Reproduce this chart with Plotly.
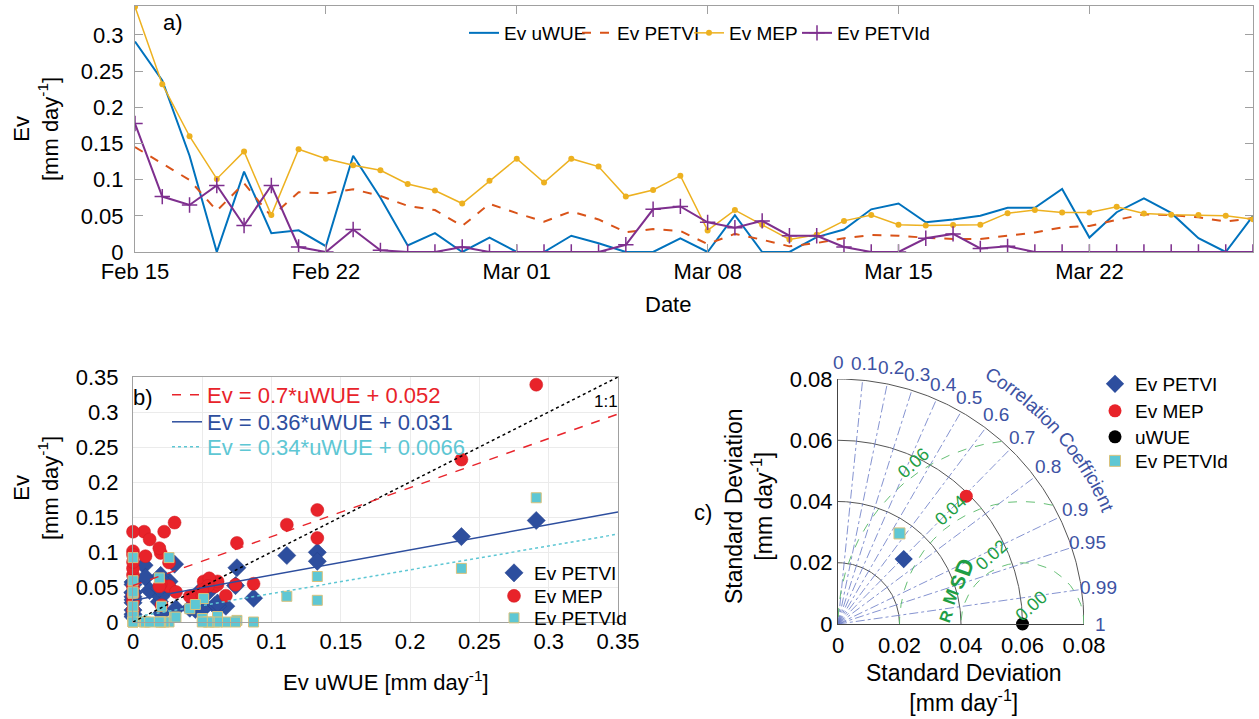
import numpy as np
import pandas as pd
import plotly.graph_objects as go

# ---------------- data ----------------
dates = pd.date_range("2015-02-15", "2015-03-28", freq="D")

ev_uwue = [0.291, 0.237, 0.133, 0.0, 0.111, 0.026, 0.030, 0.008, 0.133, 0.075,
           0.009, 0.026, 0.0, 0.020, 0.0, 0.0, 0.0225, 0.012, 0.0, 0.0,
           0.019, 0.0, 0.051, 0.0, 0.0, 0.0206, 0.031, 0.059, 0.067, 0.041,
           0.045, 0.050, 0.061, 0.061, 0.087, 0.020, 0.055, 0.074, 0.054, 0.019,
           0.0, 0.050]
ev_petvi = [0.145, 0.122, 0.0995, 0.057, 0.095, 0.049, 0.0826, 0.081, 0.0867, 0.0775,
            0.0638, 0.058, 0.036, 0.0665, 0.0537, 0.042, 0.056, 0.045, 0.0275, 0.0317,
            0.029, 0.011, 0.025, 0.017, 0.0078, 0.0124, 0.019, 0.0234, 0.0225, 0.0197,
            0.018, 0.018, 0.0225, 0.027, 0.034, 0.036, 0.0445, 0.052, 0.051, 0.048,
            0.042, 0.047]
ev_mep = [0.339, 0.232, 0.160, 0.101, 0.139, 0.051, 0.142, 0.129, 0.120, 0.113,
          0.094, 0.085, 0.067, 0.0986, 0.129, 0.096, 0.129, 0.118, 0.0766, 0.0858,
          0.1055, 0.0298, 0.058, 0.0376, 0.0174, 0.0239, 0.043, 0.051, 0.0376, 0.0367,
          0.0372, 0.0376, 0.0537, 0.058, 0.0546, 0.0546, 0.0624, 0.0532, 0.0514, 0.051,
          0.050, 0.0454]
ev_petvid = [0.1775, 0.0766, 0.065, 0.092, 0.0367, 0.092, 0.0069, 0.0, 0.031, 0.0023,
             0.0, 0.0, 0.0069, 0.0, 0.0, 0.0, 0.0, 0.0, 0.010, 0.059,
             0.063, 0.041, 0.0335, 0.043, 0.0225, 0.0225, 0.0069, 0.0, 0.0, 0.019,
             0.025, 0.005, 0.0078, 0.0, 0.0, 0.0, 0.0, 0.0, 0.0, 0.0,
             0.0, 0.0]

a_ytick_vals = [0, 0.05, 0.1, 0.15, 0.2, 0.25, 0.3]
a_ytick_text = ["0", "0.05", "0.1", "0.15", "0.2", "0.25", "0.3"]
a_xtick_dates = ["2015-02-15", "2015-02-22", "2015-03-01", "2015-03-08",
                 "2015-03-15", "2015-03-22"]
a_xtick_text = ["Feb 15", "Feb 22", "Mar 01", "Mar 08", "Mar 15", "Mar 22"]

# linear fits against Ev uWUE
fit_slopes = [0.7, 0.36, 0.34]
fit_intercepts = [0.052, 0.031, 0.0066]
fit_slope_text = ["0.7", "0.36", "0.34"]
fit_intercept_text = ["0.052", "0.031", "0.0066"]

b_tick_vals = [0, 0.05, 0.1, 0.15, 0.2, 0.25, 0.3, 0.35]
b_tick_text = ["0", "0.05", "0.1", "0.15", "0.2", "0.25", "0.3", "0.35"]

# Taylor diagram statistics
taylor_names = ["Ev PETVI", "Ev MEP", "uWUE", "Ev PETVId"]
taylor_std = [0.0301, 0.0590, 0.0600, 0.0357]
taylor_corr = [0.71, 0.707, 1.0, 0.56]
std_arcs = [0.02, 0.04, 0.06, 0.08]
rmsd_levels = [0.02, 0.04, 0.06]
rmsd_label_text = ["0.00", "0.02", "0.04", "0.06"]
corr_lines = [0.1, 0.2, 0.3, 0.4, 0.5, 0.6, 0.7, 0.8, 0.9, 0.95, 0.99]
corr_ticks = [0, 0.1, 0.2, 0.3, 0.4, 0.5, 0.6, 0.7, 0.8, 0.9, 0.95, 0.99, 1]
corr_tick_text = ["0", "0.1", "0.2", "0.3", "0.4", "0.5", "0.6", "0.7", "0.8",
                  "0.9", "0.95", "0.99", "1"]
c_tick_vals = [0, 0.02, 0.04, 0.06, 0.08]
c_tick_text = ["0", "0.02", "0.04", "0.06", "0.08"]

# ---------------- style ----------------
W, H = 1259, 719
FONT = "Liberation Sans, Arial, Helvetica, sans-serif"
C_UWUE, C_PETVI, C_MEP, C_PETVID = "#0072BD", "#D95319", "#EDB120", "#7E2F8E"
C_RED, C_BLUE, C_CYAN = "#E8232A", "#2D4E9E", "#5EC7D4"
C_CORR, C_GREEN = "#3D52A3", "#1E9E45"
AX_LINE = "#a0a0a0"


def px(x):
    return x / W


def py(y):
    return 1 - y / H


# pixel box of the Taylor diagram axes
TX0, TX1, TY0, TY1 = 838, 1084, 624, 379
T_MAX = 0.08


def tpx(x, y):
    """Taylor data coordinates -> paper fraction."""
    return px(TX0 + x / T_MAX * (TX1 - TX0)), py(TY0 - y / T_MAX * (TY0 - TY1))


fig = go.Figure()

# ---------------- panel a: time series ----------------
fig.add_trace(go.Scatter(x=dates, y=ev_uwue, name="Ev uWUE", mode="lines",
                         line=dict(color=C_UWUE, width=2), xaxis="x", yaxis="y",
                         legend="legend"))
fig.add_trace(go.Scatter(x=dates, y=ev_petvi, name="Ev PETVI", mode="lines",
                         line=dict(color=C_PETVI, width=2, dash="dash"),
                         xaxis="x", yaxis="y", legend="legend12"))
fig.add_trace(go.Scatter(x=dates, y=ev_mep, name="Ev MEP", mode="lines+markers",
                         line=dict(color=C_MEP, width=1.5),
                         marker=dict(color=C_MEP, size=6, symbol="circle"),
                         xaxis="x", yaxis="y", legend="legend13"))
fig.add_trace(go.Scatter(x=dates, y=ev_petvid, name="Ev PETVId", mode="lines+markers",
                         line=dict(color=C_PETVID, width=2),
                         marker=dict(color=C_PETVID, size=11, symbol="cross-thin",
                                     line=dict(color=C_PETVID, width=1.5)),
                         xaxis="x", yaxis="y", legend="legend14"))

# ---------------- panel b: scatter against uWUE ----------------
fig.add_trace(go.Scatter(x=ev_uwue, y=ev_petvi, name="Ev PETVI", mode="markers",
                         marker=dict(symbol="diamond", size=14, color=C_BLUE,
                                     line=dict(color="#24408a", width=0.5)),
                         xaxis="x2", yaxis="y2", legend="legend5", cliponaxis=False))
fig.add_trace(go.Scatter(x=ev_uwue, y=ev_mep, name="Ev MEP", mode="markers",
                         marker=dict(symbol="circle", size=13, color=C_RED,
                                     line=dict(color="#d01c22", width=0.5)),
                         xaxis="x2", yaxis="y2", legend="legend6", cliponaxis=False))
fig.add_trace(go.Scatter(x=ev_uwue, y=ev_petvid, name="Ev PETVId", mode="markers",
                         marker=dict(symbol="square", size=10, color=C_CYAN,
                                     line=dict(color="#d9c27c", width=1)),
                         xaxis="x2", yaxis="y2", legend="legend7", cliponaxis=False))

xfit = np.array([0.0, 0.35])
fig.add_trace(go.Scatter(x=xfit, y=xfit, mode="lines", showlegend=False,
                         line=dict(color="black", width=1.5, dash="dot"),
                         xaxis="x2", yaxis="y2"))
fit_styles = [(C_RED, "dash", "legend2"), (C_BLUE, "solid", "legend3"),
              (C_CYAN, "dot", "legend4")]
for (col, dash, leg), k, b0, ks, bs in zip(fit_styles, fit_slopes, fit_intercepts,
                                            fit_slope_text, fit_intercept_text):
    fig.add_trace(go.Scatter(x=xfit, y=k * xfit + b0, mode="lines",
                             name=f"Ev = {ks}*uWUE + {bs}",
                             line=dict(color=col, width=1.5, dash=dash),
                             xaxis="x2", yaxis="y2", legend=leg))

# ---------------- panel c: Taylor diagram ----------------
th = np.linspace(0, np.pi / 2, 200)
for r in std_arcs:
    fig.add_trace(go.Scatter(x=r * np.cos(th), y=r * np.sin(th), mode="lines",
                             line=dict(color="#555555", width=1), showlegend=False,
                             xaxis="x3", yaxis="y3", hoverinfo="skip"))
rmax = std_arcs[-1]
for c in corr_lines:
    a = np.arccos(c)
    fig.add_trace(go.Scatter(x=[0, rmax * np.cos(a)], y=[0, rmax * np.sin(a)],
                             mode="lines", showlegend=False, hoverinfo="skip",
                             line=dict(color="#6677c4", width=0.8, dash="dashdot"),
                             xaxis="x3", yaxis="y3"))
ref_std = taylor_std[2]
phi = np.linspace(0, np.pi, 400)
for d in rmsd_levels:
    xs = ref_std + d * np.cos(phi)
    ys = d * np.sin(phi)
    inside = (xs ** 2 + ys ** 2) <= rmax ** 2 + 1e-12
    xs = np.where(inside, xs, np.nan)
    ys = np.where(inside, ys, np.nan)
    fig.add_trace(go.Scatter(x=xs, y=ys, mode="lines", showlegend=False,
                             hoverinfo="skip",
                             line=dict(color="#55b865", width=0.9, dash="dash"),
                             xaxis="x3", yaxis="y3"))

taylor_markers = [dict(symbol="diamond", size=14, color=C_BLUE),
                  dict(symbol="circle", size=13, color=C_RED),
                  dict(symbol="circle", size=13, color="black"),
                  dict(symbol="square", size=11, color=C_CYAN,
                       line=dict(color="#d9c27c", width=1))]
taylor_legends = ["legend8", "legend9", "legend10", "legend11"]
for name, s, c, mk, leg in zip(taylor_names, taylor_std, taylor_corr, taylor_markers,
                               taylor_legends):
    a = np.arccos(c)
    fig.add_trace(go.Scatter(x=[s * np.cos(a)], y=[s * np.sin(a)], mode="markers",
                             name=name, marker=mk, xaxis="x3", yaxis="y3",
                             legend=leg, cliponaxis=False))

# ---------------- annotations ----------------
ann = []


def label(x, y, text, size=22, color="black", angle=0, xa="center", ya="middle"):
    ann.append(dict(x=x, y=y, xref="paper", yref="paper", text=text, showarrow=False,
                    textangle=angle, xanchor=xa, yanchor=ya,
                    font=dict(size=size, color=color, family=FONT)))


unit = "[mm day<sup>-1</sup>]"
label(px(173), py(22), "a)")
label(px(36), py(129), "Ev<br>" + unit, angle=-90)
label(px(668), py(305), "Date")

label(px(143), py(397), "b)")
label(px(36), py(488), "Ev<br>" + unit, angle=-90)
label(px(386), py(681), "Ev uWUE " + unit)
label(px(606), py(401), "1:1", size=17)

label(px(703), py(512), "c)")
label(px(749), py(506), "Standard Deviation<br>" + unit, angle=-90, size=23)
label(px(964), py(688), "Standard Deviation<br>" + unit, size=23)

# correlation tick labels around the outer arc
r_lab = 0.0855
for c, t in zip(corr_ticks, corr_tick_text):
    a = np.arccos(c)
    lx, ly = tpx(r_lab * np.cos(a), r_lab * np.sin(a))
    label(lx, ly, t, size=19, color=C_CORR)

# curved "Correlation Coefficient" caption
cap = "Correlation Coefficient"
em = {"C": .722, "o": .556, "r": .333, "e": .556, "l": .222, "a": .556, "t": .278,
      "i": .222, "n": .556, " ": .278, "f": .278, "c": .5}
cap_size = 19
unit_per_px = T_MAX / (TX1 - TX0)
r_cap = 0.0955
pos = 0.0
start = np.deg2rad(59.5)
for ch in cap:
    w = em[ch] * cap_size * unit_per_px
    ang = start - (pos + w / 2) / r_cap
    pos += w
    if ch == " ":
        continue
    lx, ly = tpx(r_cap * np.cos(ang), r_cap * np.sin(ang))
    label(lx, ly, ch, size=cap_size, color=C_CORR, angle=90 - np.rad2deg(ang))

# RMSD contour labels
rmsd_label_pos = [(0.0065, 63), (0.0247, 114), (0.0439, 122), (0.0634, 124)]
for t, (rr, ang) in zip(rmsd_label_text, rmsd_label_pos):
    a = np.deg2rad(ang)
    lx, ly = tpx(ref_std + rr * np.cos(a), rr * np.sin(a))
    label(lx, ly, t, size=18, color=C_GREEN, angle=-42)
rmsd_letters = [("R", 0.0351, 0.0025, 16), ("M", 0.0368, 0.0087, 18),
                ("S", 0.0389, 0.0138, 20), ("D", 0.0411, 0.0186, 23)]
for ch, lx, ly, sz in rmsd_letters:
    qx, qy = tpx(lx, ly)
    label(qx, qy, f"<b>{ch}</b>", size=sz, color=C_GREEN, angle=-70)

# ---------------- layout ----------------
tickfont = dict(size=22, color="black", family=FONT)
leg_common = dict(bgcolor="rgba(0,0,0,0)", borderwidth=0, itemwidth=30,
                  xanchor="left", yanchor="middle", tracegroupgap=0)


def one_leg(x, y, color="black", size=19):
    return dict(x=px(x), y=py(y), font=dict(size=size, color=color), **leg_common)


fig.update_layout(
    width=W, height=H,
    margin=dict(l=0, r=0, t=0, b=0, autoexpand=False),
    paper_bgcolor="white", plot_bgcolor="white",
    font=dict(family=FONT, size=20, color="black"),
    annotations=ann,
    xaxis=dict(domain=[px(135), px(1253)], type="date",
               range=["2015-02-15", "2015-03-28"],
               tickmode="array", tickvals=a_xtick_dates, ticktext=a_xtick_text,
               tickfont=tickfont, showgrid=False, zeroline=False,
               showline=True, linecolor=AX_LINE, mirror="ticks",
               ticks="inside", ticklen=8, tickcolor=AX_LINE,
               ticklabelstandoff=0, anchor="y"),
    yaxis=dict(domain=[py(252), py(6)], range=[0, 0.34],
               tickmode="array", tickvals=a_ytick_vals, ticktext=a_ytick_text,
               tickfont=tickfont, showgrid=False, zeroline=False,
               showline=True, linecolor=AX_LINE, mirror="ticks",
               ticks="inside", ticklen=8, tickcolor=AX_LINE,
               ticklabelstandoff=6, anchor="x"),
    xaxis2=dict(domain=[px(133), px(618)], range=[0, 0.35],
                tickmode="array", tickvals=b_tick_vals, ticktext=b_tick_text,
                tickfont=tickfont, showgrid=True, gridcolor="#ebebeb",
                zeroline=False, showline=True, linecolor=AX_LINE, mirror=True,
                ticks="", ticklabelstandoff=0, anchor="y2"),
    yaxis2=dict(domain=[py(622), py(377)], range=[0, 0.35],
                tickmode="array", tickvals=b_tick_vals, ticktext=b_tick_text,
                tickfont=tickfont, showgrid=True, gridcolor="#ebebeb",
                zeroline=False, showline=True, linecolor=AX_LINE, mirror=True,
                ticks="", ticklabelstandoff=9, anchor="x2"),
    xaxis3=dict(domain=[px(TX0), px(TX1)], range=[0, T_MAX],
                tickmode="array", tickvals=c_tick_vals, ticktext=c_tick_text,
                tickfont=tickfont, showgrid=False, zeroline=False,
                showline=True, linecolor="#444444", ticks="",
                ticklabelstandoff=2, anchor="y3"),
    yaxis3=dict(domain=[py(TY0), py(TY1)], range=[0, T_MAX],
                tickmode="array", tickvals=c_tick_vals, ticktext=c_tick_text,
                tickfont=tickfont, showgrid=False, zeroline=False,
                showline=True, linecolor="#444444", ticks="",
                ticklabelstandoff=0, anchor="x3"),
    # panel a legend, one entry per box so the row stays compact
    legend=one_leg(464, 33),
    legend12=one_leg(577, 33),
    legend13=one_leg(689, 33),
    legend14=one_leg(797, 33),
    legend2=one_leg(167, 395, C_RED, 22),
    legend3=one_leg(167, 422, C_BLUE, 22),
    legend4=one_leg(167, 447, C_CYAN, 22),
    legend5=one_leg(494, 573),
    legend6=one_leg(494, 596),
    legend7=one_leg(494, 618),
    legend8=one_leg(1095, 384),
    legend9=one_leg(1095, 411),
    legend10=one_leg(1095, 437),
    legend11=one_leg(1095, 461),
)

fig.write_html("out.html")
